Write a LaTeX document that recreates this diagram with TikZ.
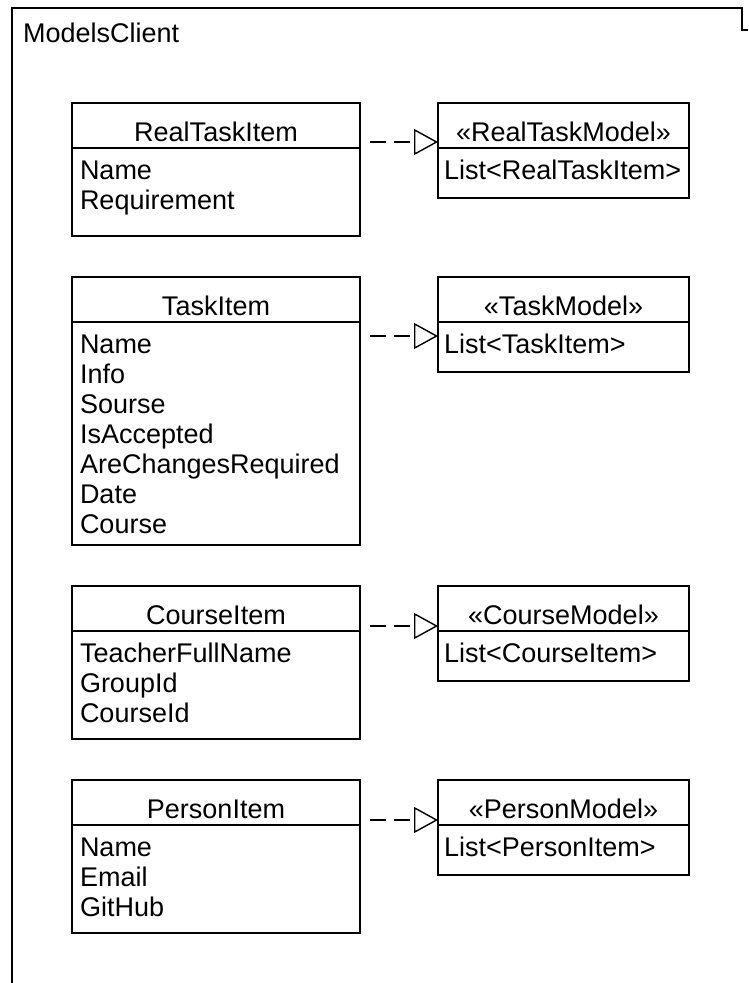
\documentclass[tikz,border=0pt]{standalone}
\usepackage{fontspec}
\setmainfont{Liberation Sans}
\usetikzlibrary{arrows.meta, positioning}
\tikzstyle{classhead} = [rectangle, draw=black, line width=1.6pt, outer sep=0pt, inner sep=0pt, minimum width=288pt, minimum height=45pt, text height=31pt, text depth=0pt]
\tikzstyle{classbody} = [rectangle, draw=black, line width=1.6pt, outer sep=0pt, inner xsep=8pt, inner ysep=0pt, text width=272pt, text height=31pt, align=left]
\tikzstyle{modelhead} = [classhead, minimum width=251pt]
\tikzstyle{modelbody} = [classbody, inner xsep=6pt, text width=239pt, text depth=19pt]
\tikzstyle{realize} = [line width=1.4pt, dash pattern=on 16pt off 8pt, shorten <=10pt, -{Triangle[open, length=24pt, width=26pt, line width=1.4pt]}]

\begin{document}
\begin{tikzpicture}[x=1pt, y=-1pt, font=\fontsize{27}{30}\selectfont]
		\useasboundingbox (0,0) rectangle (748,983);
		\draw [line width=1.4pt] (12,983) -- (12,8) -- (742,8) -- (742,30) -- (748,30);
		\node (ModelsClient) [anchor=base west, inner sep=0pt] at (23,42) {ModelsClient};
		% items on the left, models on the right
		\node (RealTaskItem) [classhead, anchor=north west] at (72,103) {RealTaskItem};
		\node (RealTaskItemBody) [classbody, text depth=57pt, below=0pt of RealTaskItem] {Name\\Requirement};
		\node (RealTaskModel) [modelhead, right=78pt of RealTaskItem] {«RealTaskModel»};
		\node (RealTaskModelBody) [modelbody, below=0pt of RealTaskModel] {List<RealTaskItem>};
		\node (TaskItem) [classhead, below=41pt of RealTaskItemBody] {TaskItem};
		\node (TaskItemBody) [classbody, text depth=192pt, below=0pt of TaskItem] {Name\\Info\\Sourse\\IsAccepted\\AreChangesRequired\\Date\\Course};
		\node (TaskModel) [modelhead, right=78pt of TaskItem] {«TaskModel»};
		\node (TaskModelBody) [modelbody, below=0pt of TaskModel] {List<TaskItem>};
		\node (CourseItem) [classhead, below=41pt of TaskItemBody] {CourseItem};
		\node (CourseItemBody) [classbody, text depth=77pt, below=0pt of CourseItem] {TeacherFullName\\GroupId\\CourseId};
		\node (CourseModel) [modelhead, right=78pt of CourseItem] {«CourseModel»};
		\node (CourseModelBody) [modelbody, below=0pt of CourseModel] {List<CourseItem>};
		\node (PersonItem) [classhead, below=41pt of CourseItemBody] {PersonItem};
		\node (PersonItemBody) [classbody, text depth=77pt, below=0pt of PersonItem] {Name\\Email\\GitHub};
		\node (PersonModel) [modelhead, right=78pt of PersonItem] {«PersonModel»};
		\node (PersonModelBody) [modelbody, below=0pt of PersonModel] {List<PersonItem>};
		\draw [realize] ([yshift=6pt]RealTaskItem.south east) -- ([yshift=6pt]RealTaskModel.south west);
		\draw [realize] ([yshift=-14pt]TaskItem.south east) -- ([yshift=-14pt]TaskModel.south west);
		\draw [realize] ([yshift=5pt]CourseItem.south east) -- ([yshift=5pt]CourseModel.south west);
		\draw [realize] ([yshift=5pt]PersonItem.south east) -- ([yshift=5pt]PersonModel.south west);
\end{tikzpicture}
\end{document}
